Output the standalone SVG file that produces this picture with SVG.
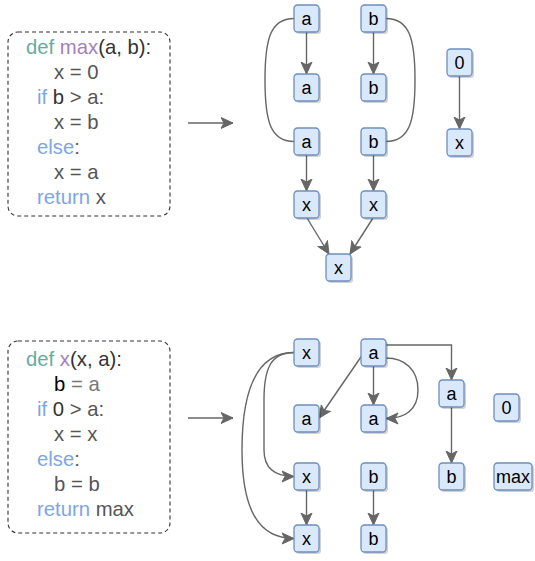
<svg xmlns="http://www.w3.org/2000/svg" width="535" height="561" viewBox="0 0 535 561">
<style>
.node rect.b{fill:#dae8fc;stroke:#6c8ebf;stroke-width:1.3}
.node rect.s{fill:#000;opacity:0.18}
.node text{font-family:"Liberation Sans",Arial,sans-serif;font-size:18px;fill:#000;text-anchor:middle}
.edge{fill:none;stroke:#666;stroke-width:1.4}
.arr{marker-end:url(#ah)}
.box{fill:none;stroke:#333;stroke-width:1.1;stroke-dasharray:4 3}
.code{font-family:"Liberation Sans",Arial,sans-serif;font-size:20.3px;fill:#555}
.kw{fill:#7EA6E0}.df{fill:#67AB9F}.fn{fill:#A680B8}.dk{fill:#333}.bk{fill:#000}.lt{fill:#777}
</style>
<defs>
<marker id="ah" markerUnits="userSpaceOnUse" markerWidth="14" markerHeight="14" viewBox="0 -7 13 14" refX="12" refY="0" orient="auto">
<path d="M0,-5.5 L12,0 L0,5.5 L3,0 Z" fill="#666" stroke="#666" stroke-width="1"/>
</marker>
</defs>

<g id="code1">
<rect class="box" x="8" y="32" width="162" height="184" rx="10"/>
<text class="code" x="26" y="54"><tspan class="df">def </tspan><tspan class="fn">max</tspan><tspan class="dk">(a, b):</tspan></text>
<text class="code" x="54" y="79">x = 0</text>
<text class="code" x="37" y="104"><tspan class="kw">if </tspan><tspan class="dk">b</tspan> &gt; a:</text>
<text class="code" x="54" y="129">x = b</text>
<text class="code" x="37" y="154"><tspan class="kw">else</tspan>:</text>
<text class="code" x="54" y="179">x = a</text>
<text class="code" x="37" y="204"><tspan class="kw">return </tspan>x</text>
</g>

<g id="code2">
<rect class="box" x="8" y="341" width="162" height="192" rx="10"/>
<text class="code" x="26" y="366"><tspan class="df">def </tspan><tspan class="fn">x</tspan><tspan class="dk">(x, a):</tspan></text>
<text class="code" x="54" y="391"><tspan class="bk">b</tspan><tspan class="lt"> = a</tspan></text>
<text class="code" x="37" y="416"><tspan class="kw">if </tspan><tspan class="dk">0</tspan> &gt; a:</text>
<text class="code" x="54" y="441">x = x</text>
<text class="code" x="37" y="466"><tspan class="kw">else</tspan>:</text>
<text class="code" x="54" y="491">b = b</text>
<text class="code" x="37" y="516"><tspan class="kw">return </tspan>max</text>
</g>

<g id="connectors">
<path class="edge arr" d="M188,123 L233,123"/>
<path class="edge arr" d="M188,418 L233,418"/>
<path class="edge arr" d="M306.5,32 L306.5,74"/>
<path class="edge arr" d="M373.5,32 L373.5,74"/>
<path class="edge arr" d="M306.5,155 L306.5,191"/>
<path class="edge arr" d="M373.5,155 L373.5,191"/>
<path class="edge arr" d="M307,218 L329,254"/>
<path class="edge arr" d="M373,218 L350,254"/>
<path class="edge arr" d="M459.5,76 L459.5,129"/>
<path class="edge" d="M294,18.5 C270,18.5 265,40 265,80 C265,120 270,141.5 294,141.5"/>
<path class="edge" d="M386,18.5 C410,18.5 415,40 415,80 C415,120 410,141.5 386,141.5"/>
<path class="edge arr" d="M386,345 L451.5,345 L451.5,380"/>
<path class="edge arr" d="M363,354 L319,418"/>
<path class="edge arr" d="M373.5,366 L373.5,405"/>
<path class="edge arr" d="M386,358 C405,358 418,370 418,390 C418,410 405,418.5 386,418.5"/>
<path class="edge arr" d="M451.5,407 L451.5,463"/>
<path class="edge arr" d="M373.5,490 L373.5,525"/>
<path class="edge arr" d="M306.5,490 L306.5,525"/>
<path class="edge arr" d="M294,352.5 C270,352.5 264,370 264,400 L264,450 C264,468 274,476.5 294,476.5"/>
<path class="edge arr" d="M294,352.5 C252,352.5 242,400 242,450 C242,505 256,538.5 294,538.5"/>
</g>

<g id="t_a1" class="node"><rect class="s" x="296" y="7" width="25" height="27" rx="3.5"/><rect class="b" x="294" y="5" width="25" height="27" rx="3.5"/><text x="306.5" y="25">a</text></g>
<g id="t_b1" class="node"><rect class="s" x="363" y="7" width="25" height="27" rx="3.5"/><rect class="b" x="361" y="5" width="25" height="27" rx="3.5"/><text x="373.5" y="25">b</text></g>
<g id="t_a2" class="node"><rect class="s" x="296" y="76" width="25" height="27" rx="3.5"/><rect class="b" x="294" y="74" width="25" height="27" rx="3.5"/><text x="306.5" y="94">a</text></g>
<g id="t_b2" class="node"><rect class="s" x="363" y="76" width="25" height="27" rx="3.5"/><rect class="b" x="361" y="74" width="25" height="27" rx="3.5"/><text x="373.5" y="94">b</text></g>
<g id="t_a3" class="node"><rect class="s" x="296" y="130" width="25" height="27" rx="3.5"/><rect class="b" x="294" y="128" width="25" height="27" rx="3.5"/><text x="306.5" y="148">a</text></g>
<g id="t_b3" class="node"><rect class="s" x="363" y="130" width="25" height="27" rx="3.5"/><rect class="b" x="361" y="128" width="25" height="27" rx="3.5"/><text x="373.5" y="148">b</text></g>
<g id="t_x1" class="node"><rect class="s" x="296" y="193" width="25" height="27" rx="3.5"/><rect class="b" x="294" y="191" width="25" height="27" rx="3.5"/><text x="306.5" y="211">x</text></g>
<g id="t_x2" class="node"><rect class="s" x="363" y="193" width="25" height="27" rx="3.5"/><rect class="b" x="361" y="191" width="25" height="27" rx="3.5"/><text x="373.5" y="211">x</text></g>
<g id="t_x3" class="node"><rect class="s" x="328" y="256" width="25" height="27" rx="3.5"/><rect class="b" x="326" y="254" width="25" height="27" rx="3.5"/><text x="338.5" y="274">x</text></g>
<g id="t_zero" class="node"><rect class="s" x="449" y="51" width="25" height="27" rx="3.5"/><rect class="b" x="447" y="49" width="25" height="27" rx="3.5"/><text x="459.5" y="69">0</text></g>
<g id="t_xr" class="node"><rect class="s" x="449" y="131" width="25" height="27" rx="3.5"/><rect class="b" x="447" y="129" width="25" height="27" rx="3.5"/><text x="459.5" y="149">x</text></g>

<g id="b_x1" class="node"><rect class="s" x="296" y="341" width="25" height="27" rx="3.5"/><rect class="b" x="294" y="339" width="25" height="27" rx="3.5"/><text x="306.5" y="359">x</text></g>
<g id="b_a1" class="node"><rect class="s" x="363" y="341" width="25" height="27" rx="3.5"/><rect class="b" x="361" y="339" width="25" height="27" rx="3.5"/><text x="373.5" y="359">a</text></g>
<g id="b_a2" class="node"><rect class="s" x="296" y="407" width="25" height="27" rx="3.5"/><rect class="b" x="294" y="405" width="25" height="27" rx="3.5"/><text x="306.5" y="425">a</text></g>
<g id="b_a3" class="node"><rect class="s" x="363" y="407" width="25" height="27" rx="3.5"/><rect class="b" x="361" y="405" width="25" height="27" rx="3.5"/><text x="373.5" y="425">a</text></g>
<g id="b_a4" class="node"><rect class="s" x="441" y="382" width="25" height="27" rx="3.5"/><rect class="b" x="439" y="380" width="25" height="27" rx="3.5"/><text x="451.5" y="400">a</text></g>
<g id="b_zero" class="node"><rect class="s" x="496" y="396" width="25" height="27" rx="3.5"/><rect class="b" x="494" y="394" width="25" height="27" rx="3.5"/><text x="506.5" y="414">0</text></g>
<g id="b_x2" class="node"><rect class="s" x="296" y="465" width="25" height="27" rx="3.5"/><rect class="b" x="294" y="463" width="25" height="27" rx="3.5"/><text x="306.5" y="483">x</text></g>
<g id="b_b1" class="node"><rect class="s" x="363" y="465" width="25" height="27" rx="3.5"/><rect class="b" x="361" y="463" width="25" height="27" rx="3.5"/><text x="373.5" y="483">b</text></g>
<g id="b_b2" class="node"><rect class="s" x="441" y="465" width="25" height="27" rx="3.5"/><rect class="b" x="439" y="463" width="25" height="27" rx="3.5"/><text x="451.5" y="483">b</text></g>
<g id="b_max" class="node"><rect class="s" x="496" y="465" width="38" height="27" rx="3.5"/><rect class="b" x="494" y="463" width="38" height="27" rx="3.5"/><text x="513" y="483">max</text></g>
<g id="b_x3" class="node"><rect class="s" x="296" y="527" width="25" height="27" rx="3.5"/><rect class="b" x="294" y="525" width="25" height="27" rx="3.5"/><text x="306.5" y="545">x</text></g>
<g id="b_b3" class="node"><rect class="s" x="363" y="527" width="25" height="27" rx="3.5"/><rect class="b" x="361" y="525" width="25" height="27" rx="3.5"/><text x="373.5" y="545">b</text></g>
</svg>
